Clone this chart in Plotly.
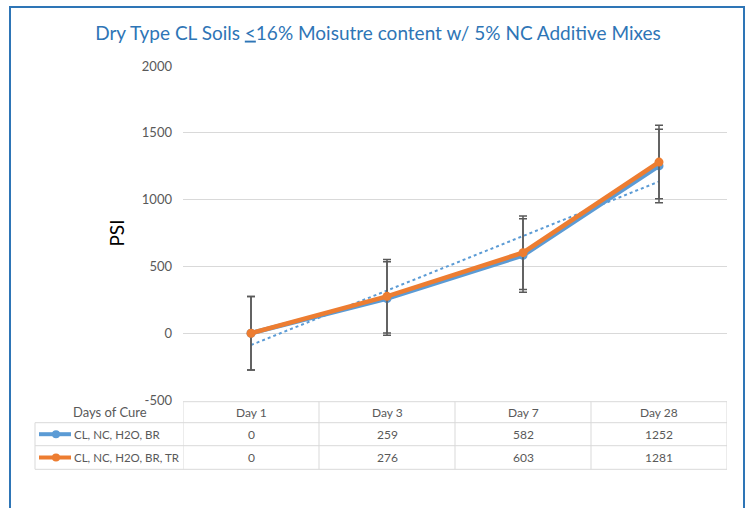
import numpy as np
import plotly.graph_objects as go

categories = ["Day 1", "Day 3", "Day 7", "Day 28"]
series_names = ["CL, NC, H2O, BR", "CL, NC, H2O, BR, TR"]
series1 = [0, 259, 582, 1252]
series2 = [0, 276, 603, 1281]
error_amount = 275
y_ticks = [-500, 0, 500, 1000, 1500, 2000]
y_tick_labels = ["-500", "0", "500", "1000", "1500", "2000"]

BLUE = "#5B9BD5"
ORANGE = "#ED7D31"
GRAY = "#595959"
GRID = "#D9D9D9"
FONT = "Lato"

W, H = 748, 508
L, R, T, B = 183, 21, 66, 108
pw, ph = W - L - R, H - T - B

def px_x(px):
    return (px - L) / pw

def px_y(py):
    return (H - B - py) / ph

fig = go.Figure()

# linear trendline of series 1
idx = np.arange(len(categories))
slope, intercept = np.polyfit(idx, series1, 1)
trend = slope * idx + intercept
fig.add_trace(go.Scatter(x=categories, y=trend, mode="lines",
                         line=dict(color=BLUE, width=2, dash="dot"),
                         showlegend=False, hoverinfo="skip"))

for vals, col, name in [(series1, BLUE, series_names[0]), (series2, ORANGE, series_names[1])]:
    fig.add_trace(go.Scatter(
        x=categories, y=vals, mode="lines+markers", name=name,
        line=dict(color=col, width=4.5),
        marker=dict(color=col, size=9),
        error_y=dict(type="constant", value=error_amount, color=GRAY, thickness=1.5, width=4),
        showlegend=False))

shapes = []
annotations = []
line_style = dict(color=GRID, width=1)

y_top = px_y(401.7)
y_r1 = px_y(422.7)
y_r2 = px_y(445.7)
y_bot = px_y(469.3)
x_left = px_x(35)
row_centers = [px_y(412), px_y(434.2), px_y(457.5)]

shapes.append(dict(type="line", xref="paper", yref="paper", x0=0, x1=1, y0=y_top, y1=y_top, line=line_style))
for yy in [y_r1, y_r2, y_bot]:
    shapes.append(dict(type="line", xref="paper", yref="paper", x0=x_left, x1=1, y0=yy, y1=yy, line=line_style))
shapes.append(dict(type="line", xref="paper", yref="paper", x0=x_left, x1=x_left, y0=y_r1, y1=y_bot, line=line_style))
for i in range(len(categories) + 1):
    shapes.append(dict(type="line", xref="x", yref="paper", x0=i - 0.5, x1=i - 0.5, y0=y_top, y1=y_bot, line=line_style))

tfont = dict(family=FONT, size=12, color=GRAY)
annotations.append(dict(text="Days of Cure", xref="paper", yref="paper", x=px_x(110), y=row_centers[0],
                        showarrow=False, font=dict(family=FONT, size=13, color=GRAY), xanchor="center", yanchor="middle"))
for i, c in enumerate(categories):
    annotations.append(dict(text=c, xref="x", yref="paper", x=i, y=row_centers[0], showarrow=False,
                            font=tfont, yanchor="middle"))
    for r, vals in enumerate([series1, series2]):
        annotations.append(dict(text=str(vals[i]), xref="x", yref="paper", x=i, y=row_centers[r + 1],
                                showarrow=False, font=tfont, yanchor="middle"))

for r, (name, col) in enumerate([(series_names[0], BLUE), (series_names[1], ORANGE)]):
    yc = row_centers[r + 1]
    shapes.append(dict(type="line", xref="paper", yref="paper", x0=px_x(39), x1=px_x(71), y0=yc, y1=yc,
                       line=dict(color=col, width=4)))
    shapes.append(dict(type="circle", xref="paper", yref="paper", x0=px_x(52), x1=px_x(60),
                       y0=yc - 4 / ph, y1=yc + 4 / ph, fillcolor=col, line=dict(color=col, width=0)))
    annotations.append(dict(text=name, xref="paper", yref="paper", x=px_x(71.5), y=yc, showarrow=False,
                            font=dict(family=FONT, size=11.5, color=GRAY), xanchor="left", yanchor="middle"))

# outer chart border
shapes.append(dict(type="rect", xref="paper", yref="paper", x0=px_x(10), x1=px_x(744), y0=px_y(530), y1=px_y(7),
                   line=dict(color="#2E75B6", width=2), layer="below"))

fig.update_layout(
    width=W, height=H,
    margin=dict(l=L, r=R, t=T, b=B),
    paper_bgcolor="white", plot_bgcolor="white",
    title=dict(text="Dry Type CL Soils <u>&lt;</u>16% Moisutre content w/ 5% NC Additive Mixes",
               x=378 / W, xanchor="center", y=1 - 33 / H, yanchor="middle",
               font=dict(family=FONT, size=19, color="#2E75B6")),
    xaxis=dict(type="category", range=[-0.5, len(categories) - 0.5], showticklabels=False,
               showgrid=False, zeroline=False, showline=False, ticks=""),
    yaxis=dict(range=[-500, 2000], tickvals=y_ticks, ticktext=y_tick_labels,
               showgrid=True, gridcolor=GRID, gridwidth=1,
               zeroline=False, showline=False, ticks="", ticklabelstandoff=10,
               tickfont=dict(family=FONT, size=13, color=GRAY),
               title=dict(text="PSI", font=dict(family=FONT, size=19, color="black"), standoff=12)),
    shapes=shapes, annotations=annotations,
    showlegend=False,
)

fig.write_html("out.html", config={"displayModeBar": False},
               post_script="document.body.style.margin='0';document.body.style.overflow='hidden';")
